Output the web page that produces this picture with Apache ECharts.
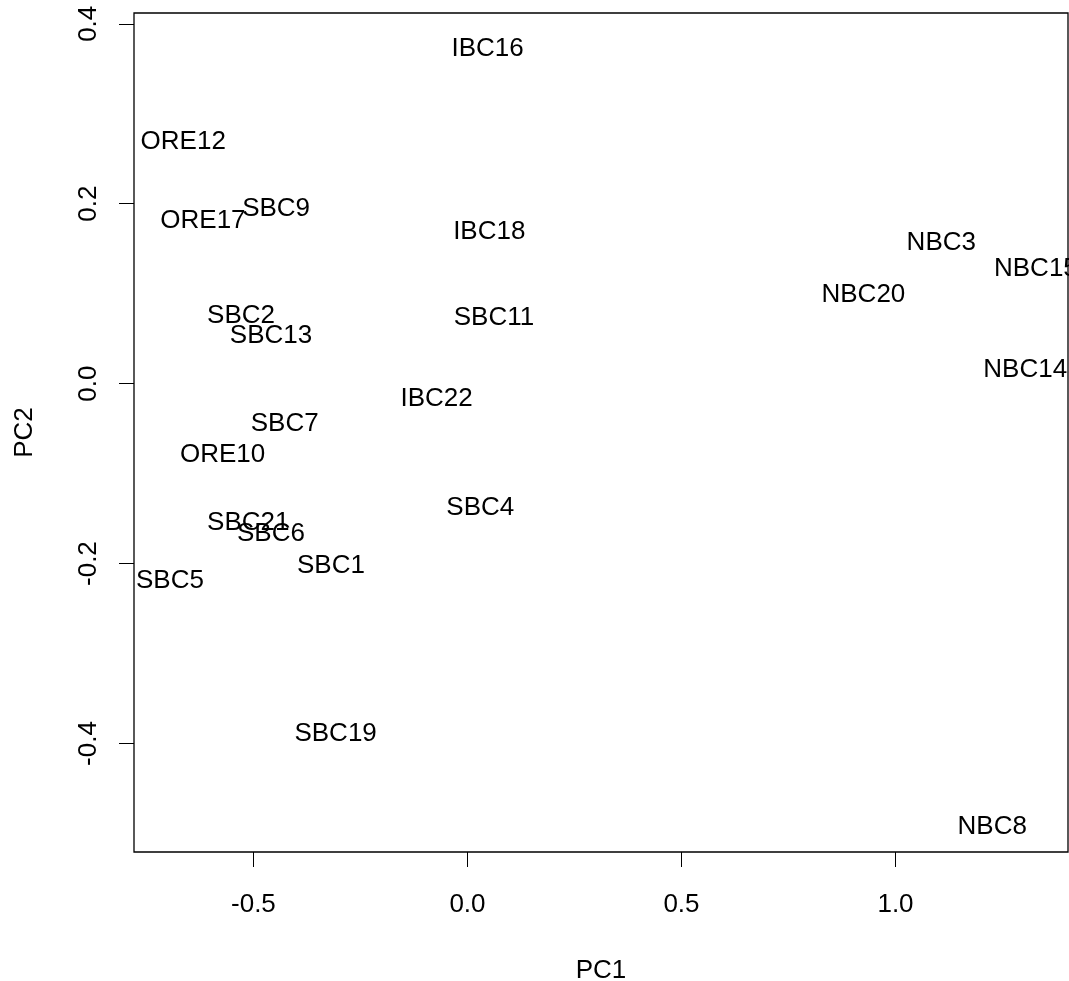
<!DOCTYPE html>
<html>
<head>
<meta charset="utf-8">
<script src="https://cdn.jsdelivr.net/npm/echarts@6/dist/echarts.min.js"></script>
<style>
  html, body { margin: 0; padding: 0; background: #fff; }
  #chart { width: 1069px; height: 981px; }
</style>
</head>
<body>
<div id="chart"></div>
<script>
const FONT = '"Liberation Sans", Arial, sans-serif';
const fontSize = 26;

// sample labels and their scores on the first two components
const names = ['IBC16', 'ORE12', 'ORE17', 'SBC9', 'IBC18', 'NBC3', 'NBC15', 'NBC20',
  'SBC2', 'SBC13', 'SBC11', 'NBC14', 'IBC22', 'SBC7', 'ORE10', 'SBC4',
  'SBC21', 'SBC6', 'SBC1', 'SBC5', 'SBC19', 'NBC8'];
const pc1 = [0.047, -0.664, -0.618, -0.447, 0.051, 1.107, 1.328, 0.925,
  -0.529, -0.459, 0.062, 1.303, -0.072, -0.427, -0.572, 0.030,
  -0.512, -0.459, -0.319, -0.695, -0.308, 1.226];
const pc2 = [0.373, 0.270, 0.182, 0.195, 0.170, 0.158, 0.129, 0.100,
  0.076, 0.054, 0.074, 0.017, -0.016, -0.044, -0.078, -0.137,
  -0.154, -0.166, -0.201, -0.218, -0.388, -0.491];

const xTicks = [-0.5, 0.0, 0.5, 1.0];
const yTicks = [-0.4, -0.2, 0.0, 0.2, 0.4];

const myChart = echarts.init(document.getElementById('chart'), null, { renderer: 'canvas' });

const points = names.map((n, i) => [pc1[i], pc2[i], n]);

const axisCommon = {
  type: 'value',
  splitLine: { show: false },
  axisLine: { show: false, onZero: false },
  axisTick: {
    show: true,
    inside: false,
    length: 15,
    lineStyle: { color: '#000', width: 1 }
  },
  nameLocation: 'middle',
  nameTextStyle: { color: '#000', fontSize, fontFamily: FONT }
};

myChart.setOption({
  backgroundColor: '#fff',
  animation: false,
  grid: {
    left: 134,
    right: 1,
    top: 13,
    bottom: 129,
    containLabel: false,
    outerBoundsMode: 'none',
    show: true,
    borderColor: '#000',
    borderWidth: 1.3,
    backgroundColor: 'transparent'
  },
  xAxis: {
    ...axisCommon,
    position: 'bottom',
    min: -0.779,
    max: 1.403,
    name: 'PC1',
    nameGap: 106,
    axisTick: { ...axisCommon.axisTick, customValues: xTicks },
    axisLabel: {
      customValues: xTicks,
      margin: 40,
      color: '#000',
      fontSize,
      fontFamily: FONT,
      formatter: v => v.toFixed(1)
    }
  },
  yAxis: {
    ...axisCommon,
    position: 'left',
    min: -0.5206,
    max: 0.412,
    name: 'PC2',
    nameGap: 96,
    axisTick: { ...axisCommon.axisTick, customValues: yTicks },
    axisLabel: {
      customValues: yTicks,
      rotate: 90,
      margin: 32,
      color: '#000',
      fontSize,
      fontFamily: FONT,
      formatter: v => v.toFixed(1)
    }
  },
  series: [{
    type: 'scatter',
    data: points,
    symbolSize: 0,
    clip: false,
    itemStyle: { opacity: 1 },
    label: {
      show: true,
      position: 'inside',
      offset: [0, 1],
      align: 'center',
      verticalAlign: 'middle',
      color: '#000',
      textBorderWidth: 0,
      fontSize,
      fontFamily: FONT,
      formatter: p => p.data[2]
    },
    emphasis: { disabled: true }
  }]
});
</script>
</body>
</html>
